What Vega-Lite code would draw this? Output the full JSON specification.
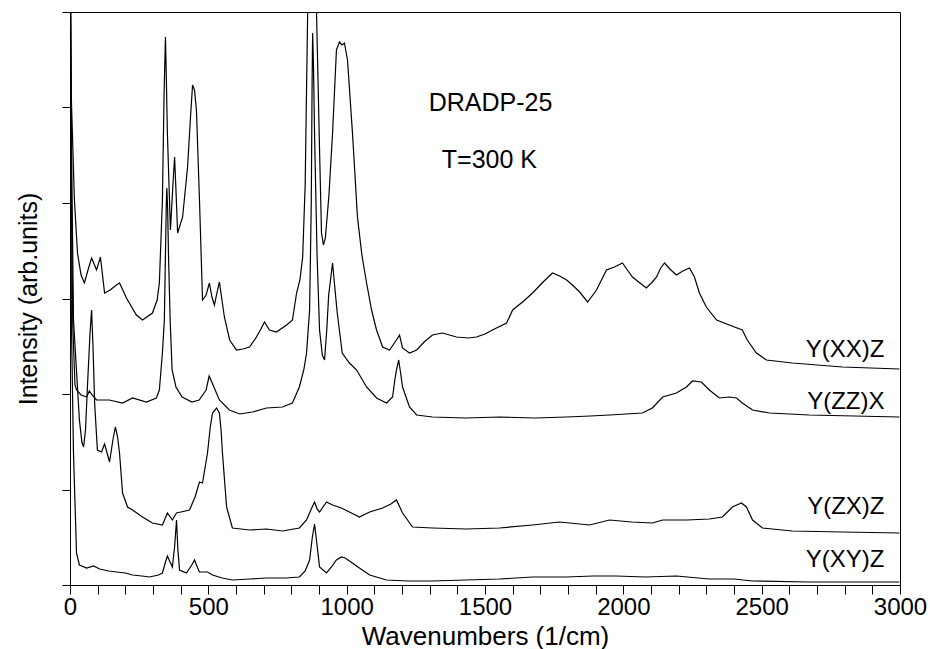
{
  "$schema": "https://vega.github.io/schema/vega-lite/v6.json",
  "width": 830,
  "height": 573,
  "autosize": {"type": "none"},
  "padding": {"left": 70, "top": 12, "right": 30, "bottom": 64},
  "background": "white",
  "config": {
    "view": {"stroke": "black", "strokeWidth": 1},
    "font": "Liberation Sans",
    "axis": {"domainColor": "black", "tickColor": "black", "labelColor": "black", "titleColor": "black", "titleFontWeight": "normal", "grid": false, "labelFont": "Liberation Sans", "titleFont": "Liberation Sans", "domainWidth": 1, "tickWidth": 1}
  },
  "datasets": {
    "spectra": [
      {"s":"XY","w":0,"v":700},{"s":"XY","w":5,"v":265},{"s":"XY","w":12.6,"v":132},{"s":"XY","w":23.5,"v":32},{"s":"XY","w":34,"v":20},{"s":"XY","w":60,"v":17},{"s":"XY","w":85,"v":19},{"s":"XY","w":107,"v":16},{"s":"XY","w":140,"v":14},{"s":"XY","w":168,"v":13},{"s":"XY","w":200,"v":12},{"s":"XY","w":226,"v":10},{"s":"XY","w":260,"v":9},{"s":"XY","w":287,"v":8},{"s":"XY","w":320,"v":10},{"s":"XY","w":334,"v":12},{"s":"XY","w":344,"v":22},{"s":"XY","w":352,"v":29},{"s":"XY","w":360,"v":24},{"s":"XY","w":370,"v":18},{"s":"XY","w":378,"v":38},{"s":"XY","w":385,"v":65},{"s":"XY","w":390,"v":35},{"s":"XY","w":396,"v":15},{"s":"XY","w":421,"v":12},{"s":"XY","w":440,"v":20},{"s":"XY","w":450,"v":25},{"s":"XY","w":460,"v":18},{"s":"XY","w":468,"v":13},{"s":"XY","w":497,"v":13},{"s":"XY","w":515,"v":10},{"s":"XY","w":550,"v":7},{"s":"XY","w":587,"v":5},{"s":"XY","w":650,"v":6},{"s":"XY","w":710,"v":7},{"s":"XY","w":780,"v":7},{"s":"XY","w":829,"v":8},{"s":"XY","w":850,"v":14},{"s":"XY","w":866,"v":25},{"s":"XY","w":876,"v":48},{"s":"XY","w":884,"v":61},{"s":"XY","w":892,"v":42},{"s":"XY","w":902,"v":18},{"s":"XY","w":927,"v":12},{"s":"XY","w":945,"v":18},{"s":"XY","w":963,"v":25},{"s":"XY","w":981,"v":28},{"s":"XY","w":995,"v":27},{"s":"XY","w":1010,"v":24},{"s":"XY","w":1046,"v":17},{"s":"XY","w":1083,"v":10},{"s":"XY","w":1144,"v":5},{"s":"XY","w":1220,"v":4},{"s":"XY","w":1310,"v":4},{"s":"XY","w":1430,"v":5},{"s":"XY","w":1552,"v":6},{"s":"XY","w":1672,"v":8},{"s":"XY","w":1795,"v":8},{"s":"XY","w":1890,"v":9},{"s":"XY","w":1975,"v":9},{"s":"XY","w":2080,"v":8},{"s":"XY","w":2192,"v":9},{"s":"XY","w":2311,"v":6},{"s":"XY","w":2400,"v":6},{"s":"XY","w":2466,"v":4},{"s":"XY","w":2672,"v":3},{"s":"XY","w":2998,"v":3},

      {"s":"ZX","w":0,"v":700},{"s":"ZX","w":3,"v":500},{"s":"ZX","w":12.6,"v":265},{"s":"ZX","w":34,"v":165},{"s":"ZX","w":43,"v":143},{"s":"ZX","w":49,"v":138},{"s":"ZX","w":56,"v":155},{"s":"ZX","w":63,"v":198},{"s":"ZX","w":72,"v":250},{"s":"ZX","w":78,"v":275},{"s":"ZX","w":83,"v":240},{"s":"ZX","w":89,"v":182},{"s":"ZX","w":99,"v":135},{"s":"ZX","w":114,"v":133},{"s":"ZX","w":125,"v":141},{"s":"ZX","w":143,"v":123},{"s":"ZX","w":155,"v":145},{"s":"ZX","w":164,"v":158},{"s":"ZX","w":172,"v":148},{"s":"ZX","w":179,"v":132},{"s":"ZX","w":190,"v":92},{"s":"ZX","w":208,"v":78},{"s":"ZX","w":226,"v":75},{"s":"ZX","w":262,"v":68},{"s":"ZX","w":298,"v":62},{"s":"ZX","w":334,"v":60},{"s":"ZX","w":352,"v":72},{"s":"ZX","w":370,"v":65},{"s":"ZX","w":385,"v":72},{"s":"ZX","w":432,"v":75},{"s":"ZX","w":452,"v":88},{"s":"ZX","w":468,"v":103},{"s":"ZX","w":479,"v":102},{"s":"ZX","w":497,"v":132},{"s":"ZX","w":507,"v":158},{"s":"ZX","w":515,"v":172},{"s":"ZX","w":530,"v":177},{"s":"ZX","w":540,"v":172},{"s":"ZX","w":546,"v":155},{"s":"ZX","w":551,"v":132},{"s":"ZX","w":566,"v":78},{"s":"ZX","w":587,"v":57},{"s":"ZX","w":649,"v":55},{"s":"ZX","w":710,"v":56},{"s":"ZX","w":768,"v":54},{"s":"ZX","w":829,"v":57},{"s":"ZX","w":855,"v":65},{"s":"ZX","w":872,"v":76},{"s":"ZX","w":884,"v":83},{"s":"ZX","w":893,"v":76},{"s":"ZX","w":902,"v":73},{"s":"ZX","w":927,"v":83},{"s":"ZX","w":949,"v":80},{"s":"ZX","w":981,"v":77},{"s":"ZX","w":1010,"v":73},{"s":"ZX","w":1046,"v":68},{"s":"ZX","w":1083,"v":73},{"s":"ZX","w":1130,"v":77},{"s":"ZX","w":1160,"v":81},{"s":"ZX","w":1180,"v":85},{"s":"ZX","w":1192,"v":78},{"s":"ZX","w":1202,"v":72},{"s":"ZX","w":1238,"v":58},{"s":"ZX","w":1310,"v":57},{"s":"ZX","w":1433,"v":56},{"s":"ZX","w":1552,"v":57},{"s":"ZX","w":1672,"v":60},{"s":"ZX","w":1769,"v":63},{"s":"ZX","w":1878,"v":60},{"s":"ZX","w":1950,"v":65},{"s":"ZX","w":2030,"v":63},{"s":"ZX","w":2105,"v":62},{"s":"ZX","w":2142,"v":65},{"s":"ZX","w":2230,"v":65},{"s":"ZX","w":2311,"v":66},{"s":"ZX","w":2358,"v":68},{"s":"ZX","w":2380,"v":74},{"s":"ZX","w":2394,"v":78},{"s":"ZX","w":2427,"v":82},{"s":"ZX","w":2445,"v":78},{"s":"ZX","w":2467,"v":65},{"s":"ZX","w":2503,"v":57},{"s":"ZX","w":2611,"v":54},{"s":"ZX","w":2792,"v":53},{"s":"ZX","w":2998,"v":52},

      {"s":"ZZ","w":0,"v":700},{"s":"ZZ","w":4,"v":420},{"s":"ZZ","w":10,"v":260},{"s":"ZZ","w":18,"v":200},{"s":"ZZ","w":24,"v":195},{"s":"ZZ","w":40,"v":190},{"s":"ZZ","w":60,"v":188},{"s":"ZZ","w":70,"v":194},{"s":"ZZ","w":80,"v":190},{"s":"ZZ","w":96,"v":185},{"s":"ZZ","w":142,"v":185},{"s":"ZZ","w":190,"v":182},{"s":"ZZ","w":226,"v":187},{"s":"ZZ","w":276,"v":183},{"s":"ZZ","w":312,"v":187},{"s":"ZZ","w":323,"v":195},{"s":"ZZ","w":334,"v":232},{"s":"ZZ","w":341,"v":265},{"s":"ZZ","w":345,"v":330},{"s":"ZZ","w":348,"v":380},{"s":"ZZ","w":350,"v":397},{"s":"ZZ","w":353,"v":375},{"s":"ZZ","w":356,"v":330},{"s":"ZZ","w":362,"v":265},{"s":"ZZ","w":369,"v":215},{"s":"ZZ","w":383,"v":198},{"s":"ZZ","w":405,"v":188},{"s":"ZZ","w":441,"v":183},{"s":"ZZ","w":467,"v":185},{"s":"ZZ","w":492,"v":195},{"s":"ZZ","w":503,"v":209},{"s":"ZZ","w":514,"v":202},{"s":"ZZ","w":540,"v":185},{"s":"ZZ","w":576,"v":175},{"s":"ZZ","w":613,"v":171},{"s":"ZZ","w":660,"v":173},{"s":"ZZ","w":710,"v":177},{"s":"ZZ","w":768,"v":178},{"s":"ZZ","w":804,"v":182},{"s":"ZZ","w":829,"v":198},{"s":"ZZ","w":845,"v":215},{"s":"ZZ","w":855,"v":232},{"s":"ZZ","w":866,"v":275},{"s":"ZZ","w":872,"v":380},{"s":"ZZ","w":875,"v":500},{"s":"ZZ","w":877,"v":552},{"s":"ZZ","w":880,"v":520},{"s":"ZZ","w":884,"v":450},{"s":"ZZ","w":893,"v":330},{"s":"ZZ","w":902,"v":255},{"s":"ZZ","w":912,"v":230},{"s":"ZZ","w":920,"v":225},{"s":"ZZ","w":928,"v":255},{"s":"ZZ","w":935,"v":290},{"s":"ZZ","w":949,"v":322},{"s":"ZZ","w":958,"v":295},{"s":"ZZ","w":966,"v":272},{"s":"ZZ","w":984,"v":232},{"s":"ZZ","w":1010,"v":222},{"s":"ZZ","w":1036,"v":215},{"s":"ZZ","w":1072,"v":198},{"s":"ZZ","w":1108,"v":187},{"s":"ZZ","w":1144,"v":182},{"s":"ZZ","w":1166,"v":188},{"s":"ZZ","w":1174,"v":205},{"s":"ZZ","w":1180,"v":215},{"s":"ZZ","w":1188,"v":225},{"s":"ZZ","w":1195,"v":212},{"s":"ZZ","w":1202,"v":198},{"s":"ZZ","w":1227,"v":178},{"s":"ZZ","w":1253,"v":170},{"s":"ZZ","w":1310,"v":168},{"s":"ZZ","w":1430,"v":167},{"s":"ZZ","w":1552,"v":168},{"s":"ZZ","w":1680,"v":167},{"s":"ZZ","w":1795,"v":168},{"s":"ZZ","w":1880,"v":169},{"s":"ZZ","w":1950,"v":170},{"s":"ZZ","w":2069,"v":172},{"s":"ZZ","w":2105,"v":177},{"s":"ZZ","w":2142,"v":188},{"s":"ZZ","w":2192,"v":192},{"s":"ZZ","w":2228,"v":198},{"s":"ZZ","w":2250,"v":204},{"s":"ZZ","w":2282,"v":203},{"s":"ZZ","w":2311,"v":195},{"s":"ZZ","w":2347,"v":187},{"s":"ZZ","w":2383,"v":188},{"s":"ZZ","w":2409,"v":187},{"s":"ZZ","w":2430,"v":182},{"s":"ZZ","w":2467,"v":175},{"s":"ZZ","w":2528,"v":172},{"s":"ZZ","w":2672,"v":170},{"s":"ZZ","w":2998,"v":168},

      {"s":"XX","w":0,"v":700},{"s":"XX","w":5,"v":485},{"s":"XX","w":16,"v":385},{"s":"XX","w":27,"v":332},{"s":"XX","w":40,"v":310},{"s":"XX","w":52,"v":302},{"s":"XX","w":65,"v":315},{"s":"XX","w":78,"v":327},{"s":"XX","w":96,"v":315},{"s":"XX","w":110,"v":328},{"s":"XX","w":125,"v":292},{"s":"XX","w":145,"v":295},{"s":"XX","w":168,"v":300},{"s":"XX","w":179,"v":302},{"s":"XX","w":204,"v":287},{"s":"XX","w":240,"v":270},{"s":"XX","w":262,"v":265},{"s":"XX","w":298,"v":272},{"s":"XX","w":315,"v":285},{"s":"XX","w":323,"v":302},{"s":"XX","w":334,"v":385},{"s":"XX","w":340,"v":490},{"s":"XX","w":345,"v":548},{"s":"XX","w":348,"v":510},{"s":"XX","w":352,"v":452},{"s":"XX","w":363,"v":355},{"s":"XX","w":372,"v":400},{"s":"XX","w":378,"v":428},{"s":"XX","w":383,"v":395},{"s":"XX","w":389,"v":352},{"s":"XX","w":407,"v":368},{"s":"XX","w":425,"v":418},{"s":"XX","w":436,"v":470},{"s":"XX","w":443,"v":500},{"s":"XX","w":450,"v":495},{"s":"XX","w":457,"v":475},{"s":"XX","w":468,"v":385},{"s":"XX","w":479,"v":285},{"s":"XX","w":492,"v":290},{"s":"XX","w":504,"v":302},{"s":"XX","w":513,"v":288},{"s":"XX","w":522,"v":280},{"s":"XX","w":531,"v":292},{"s":"XX","w":540,"v":303},{"s":"XX","w":558,"v":268},{"s":"XX","w":577,"v":245},{"s":"XX","w":602,"v":235},{"s":"XX","w":625,"v":236},{"s":"XX","w":649,"v":238},{"s":"XX","w":674,"v":248},{"s":"XX","w":690,"v":256},{"s":"XX","w":703,"v":263},{"s":"XX","w":721,"v":255},{"s":"XX","w":746,"v":253},{"s":"XX","w":783,"v":260},{"s":"XX","w":804,"v":265},{"s":"XX","w":819,"v":292},{"s":"XX","w":831,"v":305},{"s":"XX","w":841,"v":328},{"s":"XX","w":850,"v":400},{"s":"XX","w":859,"v":572},{"s":"XX","w":866,"v":700},{"s":"XX","w":884,"v":700},{"s":"XX","w":891,"v":573},{"s":"XX","w":902,"v":435},{"s":"XX","w":909,"v":352},{"s":"XX","w":916,"v":340},{"s":"XX","w":923,"v":347},{"s":"XX","w":936,"v":390},{"s":"XX","w":949,"v":452},{"s":"XX","w":963,"v":535},{"s":"XX","w":974,"v":543},{"s":"XX","w":983,"v":540},{"s":"XX","w":992,"v":542},{"s":"XX","w":1003,"v":525},{"s":"XX","w":1021,"v":452},{"s":"XX","w":1039,"v":368},{"s":"XX","w":1055,"v":330},{"s":"XX","w":1072,"v":302},{"s":"XX","w":1090,"v":275},{"s":"XX","w":1108,"v":255},{"s":"XX","w":1130,"v":238},{"s":"XX","w":1155,"v":235},{"s":"XX","w":1180,"v":245},{"s":"XX","w":1191,"v":250},{"s":"XX","w":1202,"v":237},{"s":"XX","w":1227,"v":232},{"s":"XX","w":1253,"v":235},{"s":"XX","w":1280,"v":243},{"s":"XX","w":1310,"v":250},{"s":"XX","w":1346,"v":252},{"s":"XX","w":1397,"v":248},{"s":"XX","w":1440,"v":247},{"s":"XX","w":1469,"v":248},{"s":"XX","w":1500,"v":251},{"s":"XX","w":1527,"v":255},{"s":"XX","w":1578,"v":262},{"s":"XX","w":1600,"v":275},{"s":"XX","w":1640,"v":284},{"s":"XX","w":1672,"v":292},{"s":"XX","w":1710,"v":303},{"s":"XX","w":1744,"v":312},{"s":"XX","w":1770,"v":309},{"s":"XX","w":1795,"v":305},{"s":"XX","w":1820,"v":299},{"s":"XX","w":1842,"v":293},{"s":"XX","w":1871,"v":283},{"s":"XX","w":1903,"v":295},{"s":"XX","w":1939,"v":315},{"s":"XX","w":1968,"v":318},{"s":"XX","w":1997,"v":322},{"s":"XX","w":2012,"v":316},{"s":"XX","w":2033,"v":308},{"s":"XX","w":2060,"v":302},{"s":"XX","w":2083,"v":297},{"s":"XX","w":2105,"v":303},{"s":"XX","w":2120,"v":308},{"s":"XX","w":2135,"v":317},{"s":"XX","w":2149,"v":322},{"s":"XX","w":2168,"v":316},{"s":"XX","w":2192,"v":310},{"s":"XX","w":2215,"v":314},{"s":"XX","w":2239,"v":317},{"s":"XX","w":2257,"v":308},{"s":"XX","w":2275,"v":292},{"s":"XX","w":2300,"v":278},{"s":"XX","w":2337,"v":265},{"s":"XX","w":2383,"v":260},{"s":"XX","w":2430,"v":255},{"s":"XX","w":2448,"v":245},{"s":"XX","w":2481,"v":232},{"s":"XX","w":2517,"v":225},{"s":"XX","w":2611,"v":222},{"s":"XX","w":2792,"v":218},{"s":"XX","w":2998,"v":216}
    ],
    "labels": [
      {"t":"Y(XX)Z","w":2944,"v":235},
      {"t":"Y(ZZ)X","w":2944,"v":183},
      {"t":"Y(ZX)Z","w":2944,"v":78},
      {"t":"Y(XY)Z","w":2944,"v":25}
    ],
    "notes": [
      {"t":"DRADP-25","w":1520,"v":482},
      {"t":"T=300 K","w":1516,"v":425}
    ]
  },
  "encoding": {
    "x": {
      "field": "w", "type": "quantitative",
      "scale": {"domain": [0, 3000], "nice": false, "zero": false},
      "axis": {
        "title": "Wavenumbers (1/cm)",
        "values": [0,100,200,300,400,500,600,700,800,900,1000,1100,1200,1300,1400,1500,1600,1700,1800,1900,2000,2100,2200,2300,2400,2500,2600,2700,2800,2900,3000],
        "format": "d",
        "labelExpr": "datum.value % 500 === 0 ? datum.label : ''",
        "labelFlush": false, "labelOverlap": false,
        "tickSize": 9, "labelPadding": 1, "labelFontSize": 24,
        "titleFontSize": 26, "titleY": 59, "titleBaseline": "alphabetic"
      }
    },
    "y": {
      "field": "v", "type": "quantitative",
      "scale": {"domain": [0, 573], "nice": false, "zero": false},
      "axis": {
        "title": "Intensity (arb.units)",
        "values": [0, 95.5, 191, 286.5, 382, 477.5, 573],
        "labels": false, "tickSize": 8,
        "titleFontSize": 25, "titleX": -41.5, "titleY": 286.5, "titleBaseline": "middle"
      }
    }
  },
  "layer": [
    {
      "data": {"name": "spectra"},
      "mark": {"type": "line", "color": "black", "strokeWidth": 1.2, "clip": true},
      "encoding": {"detail": {"field": "s"}}
    },
    {
      "data": {"name": "labels"},
      "mark": {"type": "text", "align": "right", "baseline": "middle", "fontSize": 24, "color": "black", "font": "Liberation Sans"},
      "encoding": {"text": {"field": "t"}}
    },
    {
      "data": {"name": "notes"},
      "mark": {"type": "text", "align": "center", "baseline": "middle", "fontSize": 25, "color": "black", "font": "Liberation Sans"},
      "encoding": {"text": {"field": "t"}}
    }
  ]
}
